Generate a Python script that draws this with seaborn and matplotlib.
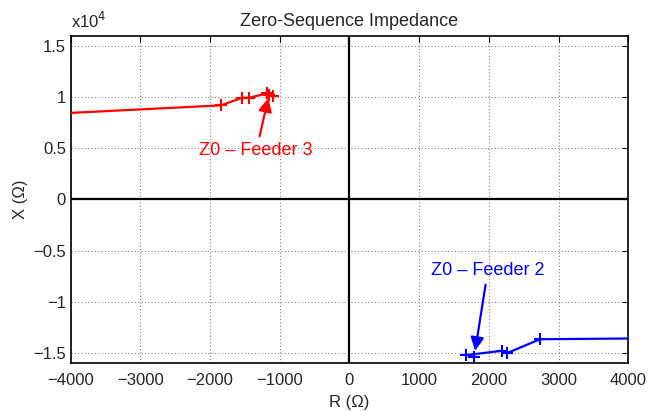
import numpy as np
import pandas as pd
import seaborn as sns
import matplotlib.pyplot as plt
from matplotlib.ticker import FuncFormatter

# Feeder 3 impedance trajectory (ohm)
r_feeder3 = [-4300, -1846, -1540, -1439, -1184, -1151, -1098]
x_feeder3 = [8360, 9200, 9940, 9940, 10370, 10200, 10130]

# Feeder 2 impedance trajectory (ohm)
r_feeder2 = [4400, 2734, 2259, 2183, 1679, 1788]
x_feeder2 = [-13580, -13680, -15040, -14810, -15230, -15460]

xticks = [-4000, -3000, -2000, -1000, 0, 1000, 2000, 3000, 4000]
yticks = [-15000, -10000, -5000, 0, 5000, 10000, 15000]

sns.set_style("white")
plt.rcParams['font.family'] = ['Liberation Sans', 'DejaVu Sans']

df3 = pd.DataFrame({'R': r_feeder3, 'X': x_feeder3})
df2 = pd.DataFrame({'R': r_feeder2, 'X': x_feeder2})

fig = plt.figure(figsize=(6.49, 4.12), dpi=100)
ax = fig.add_axes([0.109, 0.119, 0.859, 0.794])

ax.axhline(0, color='black', lw=1.6, zorder=2)
ax.axvline(0, color='black', lw=1.6, zorder=2)

sns.lineplot(data=df3, x='R', y='X', sort=False, color='red', lw=1.6,
             marker='+', markersize=8, markeredgewidth=1.5, markeredgecolor='red', ax=ax, zorder=3)
sns.lineplot(data=df2, x='R', y='X', sort=False, color='blue', lw=1.6,
             marker='+', markersize=8, markeredgewidth=1.5, markeredgecolor='blue', ax=ax, zorder=3)

ax.annotate('Z0 \u2013 Feeder 3', xy=(-1165, 9910), xytext=(-1338, 4750),
            color='red', fontsize=13, ha='center', va='center',
            arrowprops=dict(arrowstyle='-|>', color='red', lw=1.6, mutation_scale=20,
                            shrinkA=2, shrinkB=0))
ax.annotate('Z0 \u2013 Feeder 2', xy=(1803, -14810), xytext=(1986, -6920),
            color='blue', fontsize=13, ha='center', va='center',
            arrowprops=dict(arrowstyle='-|>', color='blue', lw=1.6, mutation_scale=20,
                            shrinkA=2, shrinkB=0))

ax.set_xlim(-4000, 4000)
ax.set_ylim(-16000, 16000)
ax.set_xticks(xticks)
ax.set_yticks(yticks)
ax.yaxis.set_major_formatter(FuncFormatter(lambda v, p: ('%g' % (v / 1e4)).replace('-', '\u2212')))
ax.grid(True, color='#808080', linestyle=(0, (1, 2)), lw=0.8)
ax.tick_params(direction='in', length=4, labelsize=12, top=True, right=True, color='black')
ax.tick_params(axis='x', pad=7)
for s in ax.spines.values():
    s.set_color('black')
    s.set_linewidth(1.2)

ax.set_xlabel('R (\u03a9)', fontsize=12, labelpad=5)
ax.set_ylabel('X (\u03a9)', fontsize=12, labelpad=4)
ax.set_title('Zero-Sequence Impedance', fontsize=13, pad=7)
ax.text(0.0, 1.015, 'x10$^4$', transform=ax.transAxes, fontsize=12, ha='left', va='bottom')

fig.savefig('out.png', dpi=100)
